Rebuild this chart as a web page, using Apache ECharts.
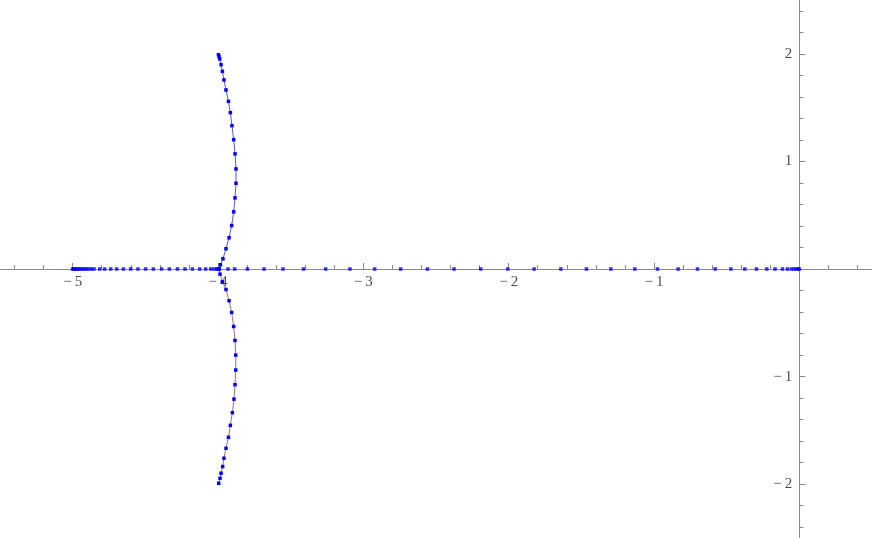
<!DOCTYPE html>
<html>
<head>
<meta charset="utf-8">
<script src="https://cdn.jsdelivr.net/npm/echarts@6/dist/echarts.min.js"></script>
<style>
  html, body { margin: 0; padding: 0; background: #fff; }
  #chart { width: 872px; height: 538px; }
</style>
</head>
<body>
<div id="chart"></div>
<script>
// points sitting on the real axis
const realAxisX = [
  -5.0, -4.993, -4.986, -4.977, -4.968, -4.957, -4.945, -4.931, -4.918, -4.904, -4.888,
  -4.871, -4.853, -4.814, -4.780, -4.738, -4.697, -4.651, -4.601, -4.551, -4.498,
  -4.445, -4.388, -4.335, -4.279, -4.227, -4.176, -4.126, -4.085, -4.050, -4.028,
  -4.009, -4.0, -3.993, -3.931, -3.885, -3.798, -3.683, -3.553, -3.412, -3.259,
  -3.092, -2.922, -2.743, -2.559, -2.376, -2.192, -2.006, -1.825, -1.641, -1.465,
  -1.297, -1.132, -0.976, -0.834, -0.701, -0.579, -0.471, -0.375, -0.295, -0.224,
  -0.167, -0.116, -0.081, -0.054, -0.036, -0.019, -0.008, 0.0
];

// upper complex branch
const upperX = [-3.997, -3.993, -3.988, -3.979, -3.970, -3.959, -3.945, -3.928, -3.915, -3.904,
  -3.892, -3.883, -3.876, -3.876, -3.883, -3.892, -3.906, -3.924, -3.945, -3.966, -3.983, -3.993];
const upperY = [1.992, 1.973, 1.952, 1.899, 1.837, 1.757, 1.664, 1.558, 1.453, 1.332,
  1.202, 1.070, 0.930, 0.797, 0.661, 0.531, 0.404, 0.290, 0.188, 0.095, 0.039, 0.002];

// lower complex branch
const lowerX = [-3.993, -3.986, -3.970, -3.945, -3.924, -3.906, -3.892, -3.883, -3.878, -3.878,
  -3.883, -3.890, -3.901, -3.915, -3.928, -3.945, -3.959, -3.968, -3.979, -3.986, -3.995];
const lowerY = [-0.002, -0.048, -0.119, -0.190, -0.295, -0.404, -0.534, -0.664, -0.800, -0.939,
  -1.075, -1.209, -1.335, -1.453, -1.564, -1.666, -1.759, -1.836, -1.898, -1.945, -1.991];

// ticks
const xMajorTicks = [-5, -4, -3, -2, -1];
const yMajorTicks = [-2, -1, 1, 2];

function minorTicks(from, to) {
  const out = [];
  for (let i = Math.round(from * 5); i <= Math.round(to * 5); i += 1) {
    if (i % 5 !== 0) out.push(Math.round(i * 20) / 100);
  }
  return out;
}
const xMinorTicks = minorTicks(-5.4, 0.4);
const yMinorTicks = minorTicks(-2.4, 2.4);

const pair = (xs, ys) => xs.map((x, i) => [x, ys[i]]);

const axisColor = '#8a8a8a';
const labelStyle = {
  show: true,
  color: '#1a1a1a',
  fontFamily: 'Liberation Serif',
  fontSize: 15,
  formatter: p => String(p.data.tick).replace('-', '\u2212\u2009'),
};

const xBase = { type: 'value', min: -5.5, max: 0.5, splitLine: { show: false }, position: 'bottom', axisLabel: { show: false } };
const yBase = { type: 'value', min: -2.5, max: 2.5, splitLine: { show: false }, position: 'left', axisLabel: { show: false } };
const line = { onZero: true, lineStyle: { color: axisColor, width: 1 } };

const chart = echarts.init(document.getElementById('chart'));
chart.setOption({
  animation: false,
  grid: { left: 0, right: 0, top: 0, bottom: 0, outerBoundsMode: 'none' },
  xAxis: [
    Object.assign({}, xBase, {
      axisLine: line,
      axisTick: { inside: true, length: 6, customValues: xMajorTicks, lineStyle: { color: axisColor } },
    }),
    Object.assign({}, xBase, {
      axisLine: line,
      axisTick: { inside: true, length: 4, customValues: xMinorTicks, lineStyle: { color: axisColor } },
    }),
  ],
  yAxis: [
    Object.assign({}, yBase, {
      axisLine: line,
      axisTick: { inside: true, length: 6, customValues: yMajorTicks, lineStyle: { color: axisColor } },
    }),
    Object.assign({}, yBase, {
      axisLine: line,
      axisTick: { inside: true, length: 4, customValues: yMinorTicks, lineStyle: { color: axisColor } },
    }),
  ],
  series: [
    {
      name: 'upper',
      type: 'line',
      data: pair(upperX, upperY),
      symbol: 'rect',
      symbolSize: 3.5,
      itemStyle: { color: '#0000ff' },
      lineStyle: { color: '#5a5ab8', width: 1 },
      z: 3,
    },
    {
      name: 'lower',
      type: 'line',
      data: pair(lowerX, lowerY),
      symbol: 'rect',
      symbolSize: 3.5,
      itemStyle: { color: '#0000ff' },
      lineStyle: { color: '#a8688c', width: 1 },
      z: 3,
    },
    {
      name: 'real',
      type: 'scatter',
      data: realAxisX.map(x => [x, 0]),
      symbol: 'rect',
      symbolSize: 3.5,
      itemStyle: { color: '#0000ff' },
      z: 4,
    },
    {
      // tick labels under the real axis
      name: 'xLabels',
      type: 'scatter',
      data: xMajorTicks.map(t => ({ value: [t, 0], tick: t })),
      symbolSize: 0,
      silent: true,
      label: Object.assign({ position: 'bottom', distance: 6 }, labelStyle),
    },
    {
      // tick labels left of the imaginary axis
      name: 'yLabels',
      type: 'scatter',
      data: yMajorTicks.map(t => ({ value: [0, t], tick: t })),
      symbolSize: 0,
      silent: true,
      label: Object.assign({ position: 'left', distance: 7 }, labelStyle),
    },
  ],
});
</script>
</body>
</html>
